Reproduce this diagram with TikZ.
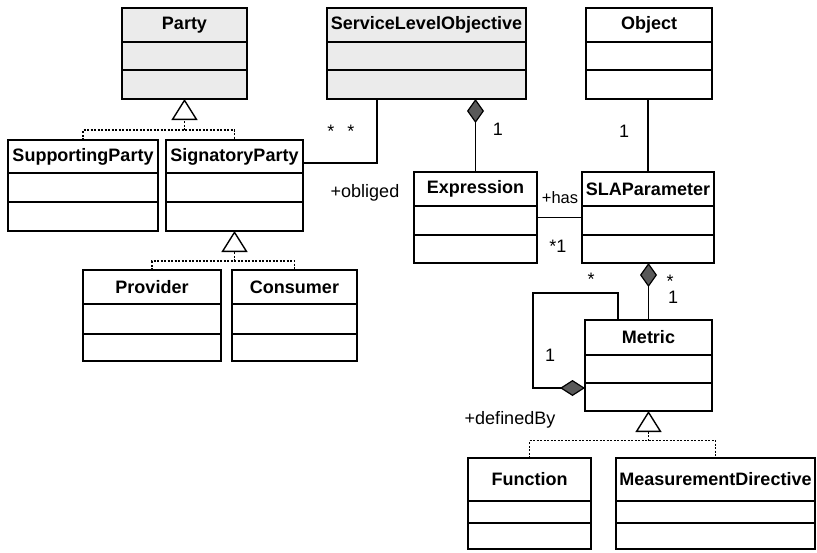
\documentclass[tikz,border=0pt]{standalone}
\usepackage{fontspec}
\setmainfont{Liberation Sans}
\usetikzlibrary{arrows.meta,calc}

\colorlet{classgray}{black!8}
\tikzset{
  umlbox/.style={draw, line width=1.7pt, minimum height=91pt, inner sep=0pt, outer sep=0pt},
  umltitle/.style={font=\fontsize{18}{20}\selectfont\bfseries, inner sep=0pt},
  lbl/.style={font=\fontsize{18}{20}\selectfont, inner sep=0pt},
  assoc/.style={line width=1.6pt},
  gen/.style={line width=1.7pt, dash pattern=on 2pt off 1.5pt},
  inherit/.style={-{Triangle[open, length=21pt, width=26pt, line width=1.4pt]}},
  owns/.style={-{Diamond[length=24pt, width=17pt, fill=black!65, line width=1.2pt]}},
}

\begin{document}
\begin{tikzpicture}[x=1pt, y=-1pt]
  \useasboundingbox (0,0) rectangle (817,552);

  % classes: name/x/y/width/title/fill/first and second compartment line
  \foreach \n/\cx/\cy/\w/\ttl/\fc/\ra/\rb in {
      party/184.5/53.5/125/Party/classgray/34/62,
      slo/426.5/53.5/199/ServiceLevelObjective/classgray/34/62,
      object/649/53.5/126/Object/white/34/62,
      supporting/83/185.5/150/SupportingParty/white/33/62,
      signatory/234.5/185.5/137/SignatoryParty/white/33/62,
      expression/475.5/217.5/123/Expression/white/34/63,
      slaparam/648/217.5/132/SLAParameter/white/34/63,
      provider/152/315.5/138/Provider/white/34/64,
      consumer/294.5/315.5/125/Consumer/white/34/64,
      metric/648.5/365.5/127/Metric/white/35/63,
      function/529.5/503.5/123/Function/white/43/65,
      measurement/715.5/503.5/199/MeasurementDirective/white/43/65} {
    \node[umlbox, fill=\fc, minimum width=\w] (\n) at (\cx,\cy) {};
    \node[umltitle] (\n-t) at ($(\n.north)+(0,\ra/2)$) {\ttl};
    \draw[line width=1.4pt] ($(\n.north west)+(0,\ra)$) -- ($(\n.north east)+(0,\ra)$);
    \draw[line width=1.4pt] ($(\n.north west)+(0,\rb)$) -- ($(\n.north east)+(0,\rb)$);
  }

  % generalizations
  \coordinate (partyjoin) at ($(party.south)+(0,31)$);
  \draw[gen] (supporting.north) |- (partyjoin) -| (signatory.north);
  \draw[gen, inherit] (partyjoin) -- (party.south);

  \coordinate (signjoin) at ($(signatory.south)+(0,30)$);
  \draw[gen] (provider.north) |- (signjoin) -| (consumer.north);
  \draw[gen, inherit] (signjoin) -- (signatory.south);

  \coordinate (metricjoin) at ($(metric.south)+(0,29.5)$);
  \draw[gen] (function.north) |- (metricjoin) -| (measurement.north);
  \draw[gen, inherit] (metricjoin) -- (metric.south);

  % associations
  \draw[assoc] ($(signatory.east)+(0,-22.5)$) -| ($(slo.south)+(-49.5,0)$);
  \draw[assoc, owns] (expression.north) -- (expression.north |- slo.south);
  \draw[assoc] (slaparam.north) -- (slaparam.north |- object.south);
  \draw[assoc] (expression.east) -- (expression.east -| slaparam.west);
  \draw[assoc, owns] (metric.north) -- (metric.north |- slaparam.south);

  % Metric refers to itself
  \coordinate (loopcorner) at (533,293);
  \draw[assoc, -{Diamond[length=25pt, width=16pt, fill=black!65, line width=1.2pt]}]
    ($(metric.north)+(-30.5,0)$) |- (loopcorner) |- ($(metric.west)+(0,22.5)$);

  % roles and multiplicities
  \node[lbl] (m-obliged) at (341,131) {*\hspace{13pt}*};
  \node[lbl] (r-obliged) at (365,193) {+obliged};
  \node[lbl] (m-expr) at (498,129) {1};
  \node[lbl] (m-object) at (624,131) {1};
  \node[lbl, font=\fontsize{16.5}{18}\selectfont] (r-has) at (560,198) {+has};
  \node[lbl] (m-has) at (558,246) {*1};
  \node[lbl] (m-self) at (591,279) {*};
  \node[lbl] (m-slap) at (670,281) {*};
  \node[lbl] (m-metric) at (673,297) {1};
  \node[lbl] (m-loop) at (550,355) {1};
  \node[lbl] (r-defined) at (510,420) {+definedBy};
\end{tikzpicture}
\end{document}
